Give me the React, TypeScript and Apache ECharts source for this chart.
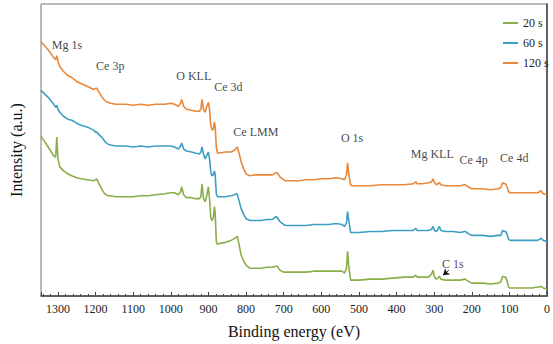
import React, { useEffect, useRef } from "react";
import * as echarts from "echarts";

const energies = [
  1345, 1326, 1311, 1306, 1303, 1300, 1295, 1285, 1274, 1263, 1250, 1239, 1221, 1205, 1200, 1197, 1192, 1184, 1176, 1168,
  1160, 1147, 1120, 1100, 1080, 1060, 1040, 1016, 1000, 990, 980, 974, 971, 966, 958, 945, 935, 924, 920, 917,
  913, 909, 905, 900, 897, 894, 891, 887, 884, 882, 879, 876, 870, 855, 840, 830, 826, 823, 818, 813,
  806, 800, 790, 775, 760, 745, 730, 721, 717, 710, 700, 695, 680, 660, 640, 620, 600, 580, 560, 545,
  538, 533, 530, 527, 522, 518, 500, 470, 440, 410, 380, 355, 349, 345, 330, 315, 307, 303, 299, 294,
  290, 286, 282, 270, 250, 230, 220, 217, 214, 205, 200, 190, 170, 150, 130, 123, 118, 113, 110, 106,
  102, 98, 80, 60, 40, 25, 20, 16, 10, 0,
];

const s120 = [
  256, 248, 240, 238, 242, 236, 231, 226, 222, 220, 216, 214, 211, 208, 209, 209, 206, 201, 197, 195,
  194, 193, 193, 192, 193, 192, 193, 193, 194, 193, 191, 194, 198, 191, 188, 187, 186, 186, 188, 198,
  188, 185, 190, 195, 188, 173, 167, 168, 175, 170, 150, 144, 144, 145, 145, 147, 149, 150, 143, 135,
  128, 123, 121, 122, 122, 122, 122, 124, 124, 120, 117, 116, 116, 116, 117, 117, 118, 118, 119, 118,
  117, 122, 134, 123, 112, 111, 111, 111, 112, 112, 112, 113, 115, 113, 113, 114, 115, 118, 114, 112,
  113, 114, 112, 111, 111, 111, 112, 112, 111, 109, 108, 108, 108, 107, 108, 109, 114, 113, 113, 110,
  105, 104, 104, 104, 104, 104, 105, 106, 103, 102,
];

const s60 = [
  207, 200, 193, 190, 192, 188, 185, 181, 178, 177, 174, 172, 170, 167, 165, 165, 163, 160, 156, 153,
  152, 151, 151, 150, 151, 150, 151, 151, 151, 150, 148, 151, 154, 148, 146, 145, 144, 143, 145, 150,
  143, 138, 141, 145, 138, 126, 121, 122, 126, 122, 103, 100, 100, 100, 101, 102, 103, 102, 95, 88,
  82, 78, 76, 76, 76, 77, 77, 80, 79, 75, 72, 71, 71, 71, 71, 72, 72, 72, 73, 72,
  70, 74, 85, 76, 64, 64, 64, 65, 65, 66, 66, 66, 68, 66, 66, 66, 67, 70, 66, 65,
  67, 70, 66, 65, 65, 64, 65, 65, 64, 62, 61, 61, 61, 60, 61, 61, 66, 65, 65, 62,
  57, 56, 56, 56, 56, 56, 57, 58, 56, 55,
];

const s20 = [
  161, 150, 141, 140, 160, 138, 130, 126, 123, 121, 119, 118, 117, 116, 117, 118, 114, 108, 103, 101,
  101, 100, 100, 100, 101, 101, 102, 103, 104, 104, 102, 105, 110, 102, 99, 99, 98, 98, 100, 113,
  98, 95, 100, 110, 98, 80, 76, 78, 90, 83, 55, 52, 53, 54, 56, 58, 59, 60, 51, 41,
  35, 31, 28, 28, 28, 29, 29, 30, 30, 26, 24, 24, 24, 24, 24, 25, 25, 25, 25, 25,
  23, 28, 45, 30, 16, 16, 16, 17, 17, 18, 19, 19, 21, 19, 19, 19, 22, 26, 19, 17,
  18, 20, 17, 16, 16, 16, 17, 17, 16, 14, 13, 13, 13, 12, 13, 14, 20, 19, 19, 15,
  9, 8, 8, 8, 8, 9, 9, 10, 8, 7,
];

const seriesNames = ["20 s", "60 s", "120 s"];
const seriesColors = ["#8aae4b", "#3c9fc1", "#e8883b"];

const peakLabels = ["Mg 1s", "Ce 3p", "O KLL", "Ce 3d", "Ce LMM", "O 1s", "Mg KLL", "Ce 4p", "Ce 4d", "C 1s"];
const peakLabelX = [1276, 1161, 939, 847, 774, 518, 305, 195, 87, 250];
const peakLabelY = [253, 232, 222, 210, 165, 159, 143, 137, 139, 32];

const arrowFrom = [261, 26];
const arrowTo = [276, 21];

const FONT = "'Liberation Serif', 'Times New Roman', serif";

export default function App() {
  const ref = useRef<HTMLDivElement>(null);
  useEffect(() => {
    if (!ref.current) return;
    const chart = echarts.init(ref.current, undefined, { renderer: "svg" });
    const all = [s20, s60, s120];
    const lineSeries = all.map((vals, i) => ({
      name: seriesNames[i],
      type: "line",
      data: energies.map((e, j) => [e, vals[j]]),
      showSymbol: false,
      symbol: "none",
      lineStyle: { color: seriesColors[i], width: 1.6 },
      itemStyle: { color: seriesColors[i] },
      z: 3,
      ...(i === 0
        ? {
            markLine: {
              silent: true,
              animation: false,
              symbol: ["none", "arrow"],
              symbolSize: 6,
              label: { show: false },
              lineStyle: { color: "#111", width: 1, type: "solid" },
              data: [[{ coord: arrowFrom }, { coord: arrowTo }]],
            },
          }
        : {}),
    }));
    chart.setOption({
      animation: false,
      backgroundColor: "#fff",
      grid: {
        left: 40,
        right: 2,
        top: 4,
        bottom: 46,
        show: true,
        borderColor: "#777",
        borderWidth: 1,
      },
      legend: {
        data: seriesNames,
        orient: "vertical",
        left: 498,
        top: 12,
        itemWidth: 15,
        itemHeight: 2,
        itemGap: 8,
        icon: "rect",
        textStyle: { fontFamily: FONT, fontSize: 12, color: "#222" },
      },
      xAxis: {
        type: "value",
        inverse: true,
        min: 0,
        max: 1345,
        interval: 100,
        name: "Binding energy (eV)",
        nameLocation: "middle",
        nameGap: 27,
        nameTextStyle: { fontFamily: FONT, fontSize: 16, color: "#111" },
        axisLine: { show: true, onZero: false, lineStyle: { color: "#444", width: 1.5 } },
        axisTick: { show: true, inside: true, length: 4, lineStyle: { color: "#444" } },
        minorTick: { show: true, splitNumber: 5, length: 2, lineStyle: { color: "#444" } },
        splitLine: { show: false },
        axisLabel: {
          fontFamily: FONT,
          fontSize: 12,
          color: "#222",
          margin: 7,
          formatter: (v: number) => (v % 100 === 0 ? String(v) : ""),
        },
      },
      yAxis: {
        type: "value",
        min: 0,
        max: 294,
        name: "Intensity (a.u.)",
        nameLocation: "middle",
        nameGap: 17,
        nameTextStyle: { fontFamily: FONT, fontSize: 16, color: "#111" },
        axisLine: { show: true, lineStyle: { color: "#444", width: 1.5 } },
        axisTick: { show: false },
        axisLabel: { show: false },
        splitLine: { show: false },
      },
      series: [
        ...lineSeries,
        {
          name: "labels",
          type: "scatter",
          symbolSize: 0,
          silent: true,
          z: 5,
          data: peakLabels.map((n, i) => ({ name: n, value: [peakLabelX[i], peakLabelY[i]] })),
          label: {
            show: true,
            position: "inside",
            formatter: "{b}",
            fontFamily: FONT,
            fontSize: 12,
            color: "#111",
          },
        },
      ],
    });
    return () => chart.dispose();
  }, []);
  return (
    <div style={{ position: "fixed", left: 0, top: 0, width: 553, height: 344, background: "#fff" }}>
      <div ref={ref} style={{ width: 553, height: 344 }} />
    </div>
  );
}
